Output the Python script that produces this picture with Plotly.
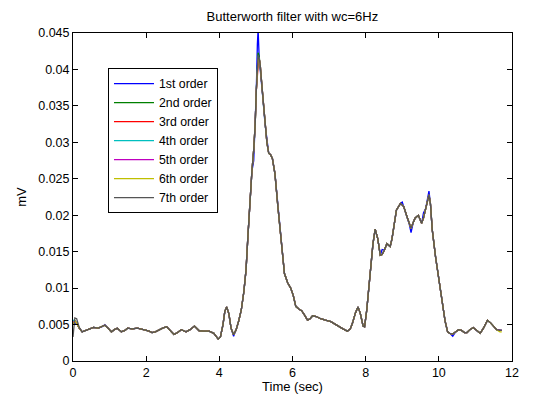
import plotly.graph_objects as go

# time (s) and common filtered signal (mV)
t = [0.00, 0.05, 0.10, 0.17, 0.25, 0.34, 0.43, 0.56, 0.69, 0.80, 0.87, 0.96,
     1.05, 1.13, 1.21, 1.32, 1.42, 1.49, 1.62, 1.76, 1.88, 1.98, 2.08, 2.16,
     2.25, 2.34, 2.45, 2.56, 2.66, 2.76, 2.86, 2.96, 3.09, 3.20, 3.32, 3.45,
     3.58, 3.72, 3.85, 3.92, 3.97, 4.03, 4.10, 4.15, 4.20, 4.26, 4.32, 4.39,
     4.46, 4.53, 4.60, 4.67, 4.73, 4.78, 4.83, 4.89, 4.94, 4.98, 5.01, 5.04,
     5.06, 5.09, 5.12, 5.16, 5.20, 5.25, 5.30, 5.35, 5.40, 5.45, 5.52, 5.60,
     5.65, 5.70, 5.78, 5.87, 5.95, 6.02, 6.09, 6.18, 6.25, 6.33, 6.41, 6.48,
     6.55, 6.65, 6.77, 6.90, 7.05, 7.15, 7.27, 7.38, 7.50, 7.58, 7.64, 7.72,
     7.79, 7.85, 7.93, 7.97, 8.03, 8.10, 8.15, 8.20, 8.26, 8.33, 8.40, 8.45,
     8.51, 8.58, 8.67, 8.72, 8.77, 8.84, 8.90, 8.95, 9.00, 9.04, 9.13, 9.19,
     9.24, 9.30, 9.35, 9.44, 9.53, 9.58, 9.64, 9.70, 9.73, 9.77, 9.82, 9.91,
     10.02, 10.10, 10.17, 10.24, 10.30, 10.38, 10.46, 10.54, 10.62, 10.70, 10.77, 10.85,
     10.94, 11.03, 11.13, 11.22, 11.33, 11.42, 11.50, 11.58, 11.67, 11.72]

base = [0.0050, 0.0055, 0.0052, 0.0045, 0.0040, 0.0042, 0.0043, 0.0046, 0.0045, 0.0047, 0.0049, 0.0045,
        0.0040, 0.0043, 0.0045, 0.0040, 0.0042, 0.0045, 0.0044, 0.0045, 0.0044, 0.00425, 0.0041, 0.0039,
        0.0040, 0.00425, 0.0045, 0.0047, 0.0042, 0.00365, 0.0039, 0.0043, 0.0040, 0.0043, 0.0048, 0.00415,
        0.0041, 0.0041, 0.0038, 0.0033, 0.0030, 0.0033, 0.0050, 0.0068, 0.0074, 0.0065, 0.0045, 0.0036,
        0.0043, 0.0055, 0.0070, 0.0095, 0.0125, 0.0170, 0.0215, 0.0260, 0.0290, 0.0325, 0.0370, 0.0410,
        0.0420, 0.0415, 0.0405, 0.0380, 0.0355, 0.0325, 0.0300, 0.0285, 0.0283, 0.0278, 0.0257, 0.0212,
        0.0185, 0.0160, 0.0120, 0.0107, 0.0100, 0.0090, 0.0075, 0.0071, 0.0069, 0.0063, 0.0056, 0.0058,
        0.0062, 0.0061, 0.0058, 0.0056, 0.0054, 0.0051, 0.0047, 0.0044, 0.0041, 0.0044, 0.0052, 0.0066,
        0.0074, 0.0066, 0.0048, 0.0047, 0.0070, 0.0107, 0.0135, 0.0161, 0.0181, 0.0168, 0.0145, 0.0146,
        0.0152, 0.0161, 0.0157, 0.0168, 0.0184, 0.0207, 0.0212, 0.0216, 0.0214, 0.0212, 0.0198, 0.0188,
        0.0182, 0.0190, 0.0196, 0.0200, 0.0189, 0.0196, 0.0209, 0.0225, 0.0228, 0.0216, 0.0180, 0.0143,
        0.0107, 0.0080, 0.0055, 0.0040, 0.0038, 0.0037, 0.0040, 0.0043, 0.0042, 0.0039, 0.0039, 0.0043,
        0.0046, 0.0042, 0.0038, 0.0045, 0.0056, 0.0052, 0.0047, 0.0043, 0.0042, 0.0042]

series_names = ["1st order", "2nd order", "3rd order", "4th order",
                "5th order", "6th order", "7th order"]
series_colors = ["#0000ff", "#008000", "#ff0000", "#00bfbf",
                 "#bf00bf", "#bfbf00", "#555555"]
order1_dev = {0.05: 0.0052, 0.87: 0.0050, 4.39: 0.0034, 4.94: 0.0275, 5.04: 0.0435,
              5.06: 0.0455, 5.12: 0.0395, 8.45: 0.0153, 9.00: 0.0218, 9.24: 0.0176,
              9.58: 0.0203, 9.73: 0.0233, 10.38: 0.0034}
order2_dev = {5.06: 0.0423, 5.09: 0.0418}
order3_dev = {5.04: 0.0400, 5.06: 0.0405}
order4_dev = {0.00: 0.0056, 5.06: 0.0418}
order5_dev = {0.00: 0.0053, 5.06: 0.0415}
order6_dev = {5.06: 0.0413, 11.67: 0.0040, 11.72: 0.0040}
order7_dev = {0.00: 0.0033, 0.05: 0.0059, 0.10: 0.0058, 0.17: 0.0046}
deviations = [order1_dev, order2_dev, order3_dev, order4_dev,
              order5_dev, order6_dev, order7_dev]

y_tickvals = [0, 0.005, 0.01, 0.015, 0.02, 0.025, 0.03, 0.035, 0.04, 0.045]
y_ticktext = ["0", "0.005", "0.01", "0.015", "0.02", "0.025", "0.03", "0.035", "0.04", "0.045"]
x_tickvals = [0, 2, 4, 6, 8, 10, 12]

fig = go.Figure()
for name, color, dev in zip(series_names, series_colors, deviations):
    y = [dev.get(tt, v) for tt, v in zip(t, base)]
    fig.add_trace(go.Scatter(x=t, y=y, mode="lines", name=name,
                             line=dict(color=color, width=1.3)))

font = dict(family="Liberation Sans, Arial, sans-serif", size=13, color="black")
tick_font = dict(family="Liberation Sans, Arial, sans-serif", size=12.5, color="black")
legend_font = dict(family="Liberation Sans, Arial, sans-serif", size=12.3, color="black")
axis_common = dict(showline=True, linecolor="black", linewidth=1, mirror="allticks",
                   ticks="inside", ticklen=5, tickcolor="black", showgrid=False,
                   zeroline=False, tickfont=tick_font, automargin=False)

fig.update_layout(
    width=536, height=394,
    margin=dict(l=73, r=24, t=33, b=33),
    paper_bgcolor="white", plot_bgcolor="white",
    font=font,
    title=dict(text="Butterworth filter with wc=6Hz", x=0.5455, xanchor="center",
               y=0.957, yanchor="middle", font=font, automargin=False),
    xaxis=dict(range=[0, 12], tickvals=x_tickvals,
               title=dict(text="Time (sec)", font=font, standoff=7), **axis_common),
    yaxis=dict(range=[0, 0.045], tickvals=y_tickvals, ticktext=y_ticktext,
               title=dict(text="mV", font=font, standoff=8), **axis_common),
    legend=dict(x=0.0797, y=0.893, xanchor="left", yanchor="top",
                bgcolor="white", bordercolor="black", borderwidth=1,
                font=legend_font, itemwidth=40, tracegroupgap=0),
    showlegend=True,
)

fig.write_html("out.html")
